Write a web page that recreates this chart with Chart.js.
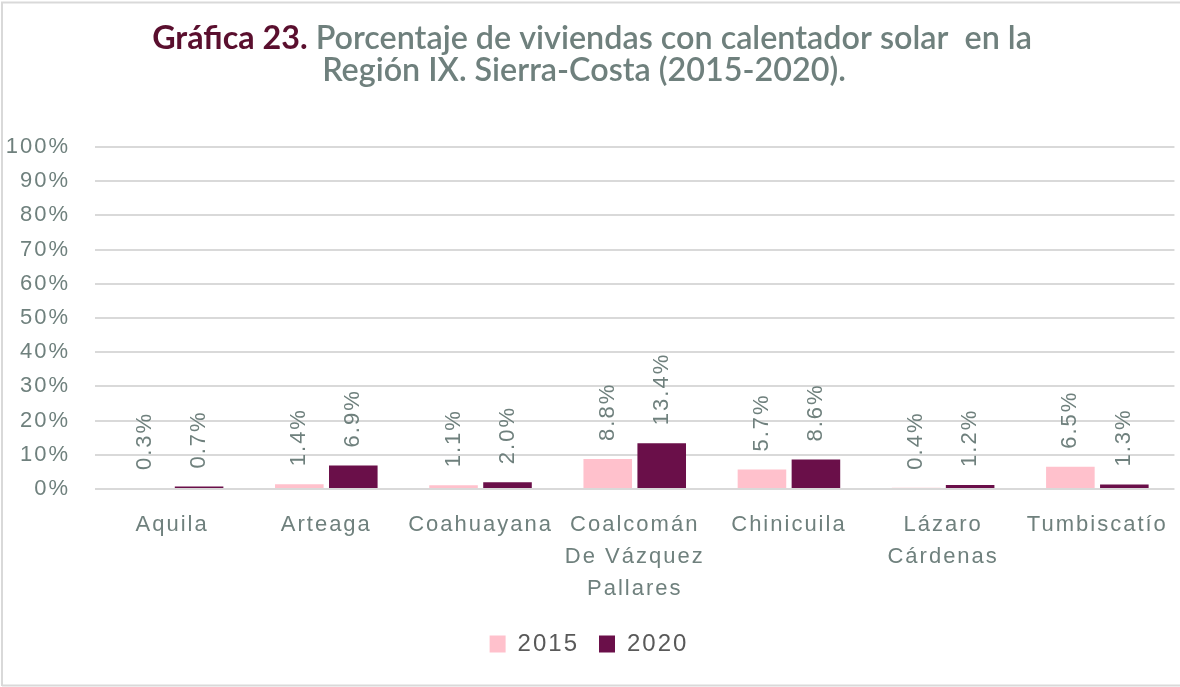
<!DOCTYPE html>
<html>
<head>
<meta charset="utf-8">
<script src="https://cdn.jsdelivr.net/npm/chart.js@4.4.1/dist/chart.umd.min.js"></script>
<style>
  html, body { margin: 0; padding: 0; background: #ffffff; }
  #wrap { position: relative; width: 1180px; height: 687px; }
  canvas { display: block; }
</style>
</head>
<body>
<div id="wrap"><canvas id="c" width="1180" height="687"></canvas></div>
<script>
// ---- data ----
const categories = [
  'Aquila',
  'Arteaga',
  'Coahuayana',
  ['Coalcomán', 'De Vázquez', 'Pallares'],
  'Chinicuila',
  ['Lázaro', 'Cárdenas'],
  'Tumbiscatío'
];
const values2015 = [0.3, 1.4, 1.1, 8.8, 5.7, 0.4, 6.5];
const values2020 = [0.7, 6.9, 2.0, 13.4, 8.6, 1.2, 1.3];
const seriesLabels = ['2015', '2020'];
const yTicks = [0, 10, 20, 30, 40, 50, 60, 70, 80, 90, 100];
const titleBold = 'Gráfica 23.';
const titleRest = ' Porcentaje de viviendas con calentador solar  en la';
const titleLine2 = 'Región IX. Sierra-Costa (2015-2020).';

const TEXT_GRAY = '#6f807d';
const FONT = "'Liberation Sans', Arial, sans-serif";
const SPACING = '2px';
const LEGEND_H = 50;
const XAXIS_H = 123;

const spacingPlugin = {
  id: 'spacing',
  beforeLayout(chart) {
    chart.ctx.letterSpacing = SPACING;
    const lg = chart.legend;
    if (lg && !lg._patched) {
      const orig = lg.fit;
      lg.fit = function () { orig.call(this); this.height = LEGEND_H; };
      lg._patched = true;
    }
  },
  beforeDraw(chart) { chart.ctx.letterSpacing = SPACING; }
};

const framePlugin = {
  id: 'frame',
  beforeDraw(chart) {
    const ctx = chart.ctx;
    ctx.save();
    ctx.fillStyle = '#ffffff';
    ctx.fillRect(0, 0, chart.width, chart.height);
    ctx.strokeStyle = '#d9d9d9';
    ctx.lineWidth = 2;
    ctx.beginPath();
    ctx.moveTo(2, 686);
    ctx.lineTo(2, 2.5);
    ctx.lineTo(1180, 2.5);
    ctx.moveTo(2, 685.5);
    ctx.lineTo(1180, 685.5);
    ctx.stroke();
    ctx.restore();
  }
};

const titlePlugin = {
  id: 'twoColorTitle',
  afterDraw(chart) {
    const ctx = chart.ctx;
    ctx.save();
    ctx.letterSpacing = '0px';
    ctx.textBaseline = 'alphabetic';
    const fBold = "700 32.3px Lato, 'Open Sans', sans-serif";
    const fRest = "600 32.3px Lato, 'Open Sans', sans-serif";
    ctx.font = fBold;
    const w1 = ctx.measureText(titleBold).width;
    ctx.font = fRest;
    const w2 = ctx.measureText(titleRest).width;
    const cx = 592;
    let x = cx - (w1 + w2) / 2;
    ctx.textAlign = 'left';
    ctx.font = fBold;
    ctx.fillStyle = '#5a0f2e';
    ctx.fillText(titleBold, x, 49);
    ctx.font = fRest;
    ctx.fillStyle = TEXT_GRAY;
    ctx.fillText(titleRest, x + w1, 49);
    ctx.textAlign = 'center';
    ctx.fillText(titleLine2, 584, 81);
    ctx.restore();
  }
};

const valueLabelPlugin = {
  id: 'valueLabels',
  afterDatasetsDraw(chart) {
    const ctx = chart.ctx;
    ctx.save();
    ctx.font = '22px ' + FONT;
    ctx.letterSpacing = SPACING;
    ctx.fillStyle = TEXT_GRAY;
    ctx.textAlign = 'left';
    ctx.textBaseline = 'middle';
    chart.data.datasets.forEach((ds, di) => {
      const meta = chart.getDatasetMeta(di);
      meta.data.forEach((el, i) => {
        const txt = ds.data[i].toFixed(1) + '%';
        ctx.save();
        ctx.translate(el.x, el.y - 18);
        ctx.rotate(-Math.PI / 2);
        ctx.fillText(txt, 0, 0);
        ctx.restore();
      });
    });
    ctx.restore();
  }
};

new Chart(document.getElementById('c'), {
  type: 'bar',
  data: {
    labels: categories,
    datasets: [
      { label: seriesLabels[0], data: values2015, backgroundColor: '#ffc1cc', borderWidth: 0 },
      { label: seriesLabels[1], data: values2020, backgroundColor: '#6a0f49', borderWidth: 0 }
    ]
  },
  options: {
    responsive: false,
    animation: false,
    events: [],
    layout: { padding: { top: 147, right: 2, left: 0, bottom: 25 } },
    datasets: { bar: { categoryPercentage: 0.70, barPercentage: 0.90 } },
    plugins: {
      title: { display: false },
      tooltip: { enabled: false },
      legend: {
        position: 'bottom',
        labels: {
          boxWidth: 16,
          boxHeight: 17,
          padding: 20,
          color: '#595959',
          font: { family: FONT, size: 24 }
        }
      }
    },
    scales: {
      x: {
        afterFit(scale) { scale.height = XAXIS_H; },
        grid: { display: false },
        border: { display: false },
        ticks: {
          color: TEXT_GRAY,
          font: { family: FONT, size: 22, lineHeight: 1.45 },
          maxRotation: 0,
          minRotation: 0,
          autoSkip: false,
          padding: 12
        }
      },
      y: {
        min: 0,
        max: 100,
        afterFit(scale) { scale.width = 95; },
        afterBuildTicks(scale) { scale.ticks = yTicks.map(v => ({ value: v })); },
        grid: { color: '#d9d9d9', lineWidth: 2, drawTicks: false },
        border: { display: false },
        ticks: {
          color: TEXT_GRAY,
          font: { family: FONT, size: 22 },
          padding: 25,
          callback: v => v + '%'
        }
      }
    }
  },
  plugins: [framePlugin, spacingPlugin, valueLabelPlugin, titlePlugin]
});
</script>
</body>
</html>
